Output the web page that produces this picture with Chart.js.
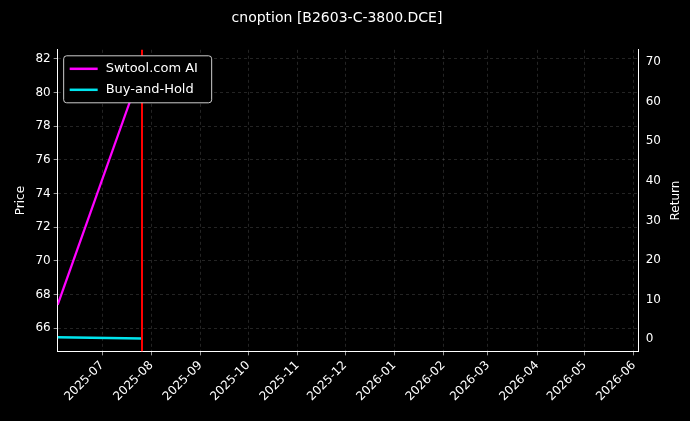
<!DOCTYPE html>
<html><head><meta charset="utf-8">
<script src="https://cdn.jsdelivr.net/npm/chart.js@4"></script>
<style>html,body{margin:0;background:#000;}#w{width:690px;height:421px;}</style>
</head><body><div id="w"><canvas id="c"></canvas></div>
<script>
const titleText = "cnoption [B2603-C-3800.DCE]";
const strategyDates = ["2025-06-03", "2025-07-26"];
const strategyReturn = [8.7, 68.5];
const holdDates = ["2025-06-03", "2025-07-26"];
const holdReturn = [0.5, 0.2];
const signalDate = "2025-07-26";
const monthTicks = ["2025-07-01","2025-08-01","2025-09-01","2025-10-01","2025-11-01","2025-12-01","2026-01-01","2026-02-01","2026-03-01","2026-04-01","2026-05-01","2026-06-01"];
const xStart = "2025-06-03", xEnd = "2026-06-04";
const priceTicks = [66,68,70,72,74,76,78,80,82];

const day = s => Date.UTC(+s.slice(0,4), +s.slice(5,7)-1, +s.slice(8,10)) / 86400000;
const pts = (d, v) => d.map((x, i) => ({x: day(x), y: v[i]}));
const tickMap = {}; monthTicks.forEach(t => tickMap[day(t)] = t.slice(0,7));

const font = {family: "DejaVu Sans", size: 12};
const extras = {
  id: 'extras',
  afterDatasetsDraw(ch) {
    const ctx = ch.ctx, a = ch.chartArea, xs = ch.scales.x;
    const px = Math.round(xs.getPixelForValue(day(signalDate)));
    ctx.save();
    ctx.strokeStyle = '#ff0000'; ctx.lineWidth = 2;
    ctx.beginPath(); ctx.moveTo(px, a.top); ctx.lineTo(px, a.bottom); ctx.stroke();
    // right axis title, reading bottom-to-top
    ctx.fillStyle = '#fff'; ctx.font = "12px 'DejaVu Sans'";
    ctx.translate(676, (a.top + a.bottom) / 2); ctx.rotate(-Math.PI / 2);
    ctx.textAlign = 'center'; ctx.textBaseline = 'middle'; ctx.fillText('Return', 0, 0);
    ctx.setTransform(1,0,0,1,0,0); ctx.scale(ch.currentDevicePixelRatio, ch.currentDevicePixelRatio);
    // legend
    const lx = a.left + 6, ly = a.top + 6;
    ctx.textAlign = 'left';
    ctx.fillStyle = '#000'; ctx.strokeStyle = '#ccc'; ctx.lineWidth = 1;
    ctx.beginPath(); ctx.roundRect(lx, ly, 148, 47, 3); ctx.fill(); ctx.stroke();
    const items = [["Swtool.com AI", "#ff00ff"], ["Buy-and-Hold", "#00e5ee"]];
    ctx.font = "13px 'DejaVu Sans'"; ctx.textBaseline = 'middle';
    items.forEach((it, i) => {
      const y = ly + 13 + i * 21;
      ctx.strokeStyle = it[1]; ctx.lineWidth = 2.5;
      ctx.beginPath(); ctx.moveTo(lx + 6, y); ctx.lineTo(lx + 34, y); ctx.stroke();
      ctx.fillStyle = '#fff'; ctx.fillText(it[0], lx + 42, y);
    });
    ctx.restore();
  }
};
const grid = {color: 'rgba(150,150,150,0.4)', lineWidth: 0.6, drawTicks: true, tickColor: '#fff', tickLength: 4};
const border = {color: '#fff', dash: [3,3]};
new Chart(document.getElementById('c'), {
  type: 'line',
  data: {datasets: [
    {data: pts(strategyDates, strategyReturn), borderColor: '#ff00ff', borderWidth: 2.2, pointRadius: 0, yAxisID: 'y1', tension: 0},
    {data: pts(holdDates, holdReturn), borderColor: '#00e5ee', borderWidth: 2.5, pointRadius: 0, yAxisID: 'y1', tension: 0}
  ]},
  options: {
    responsive: true, maintainAspectRatio: false, animation: false,
    layout: {padding: {top: 6, right: 26, left: 10, bottom: 14}},
    plugins: {legend: {display: false}, tooltip: {enabled: false},
      title: {display: true, text: titleText, color: '#fff', font: {family: "DejaVu Sans", size: 14, weight: 'normal'}, padding: {top: 4, bottom: 23}}},
    scales: {
      x: {type: 'linear', min: day(xStart), max: day(xEnd), grid: grid, border: border,
        afterBuildTicks: s => { s.ticks = monthTicks.map(t => ({value: day(t)})); },
        ticks: {color: '#fff', font: font, maxRotation: 45, minRotation: 45, autoSkip: false, callback: v => tickMap[v] || ''}},
      y: {position: 'left', min: 64.63, max: 82.54, grid: grid, border: border,
        afterBuildTicks: s => { s.ticks = priceTicks.map(v => ({value: v})); },
        title: {display: true, text: 'Price', color: '#fff', font: font},
        ticks: {color: '#fff', font: font}},
      y1: {position: 'right', min: -3.07, max: 73.1, grid: {display: false, tickColor: '#fff', tickLength: 4}, border: {color: '#fff'},
        afterBuildTicks: s => { s.ticks = [0,10,20,30,40,50,60,70].map(v => ({value: v})); },
        ticks: {color: '#fff', font: font}}
    }
  },
  plugins: [extras]
});
</script></body></html>
